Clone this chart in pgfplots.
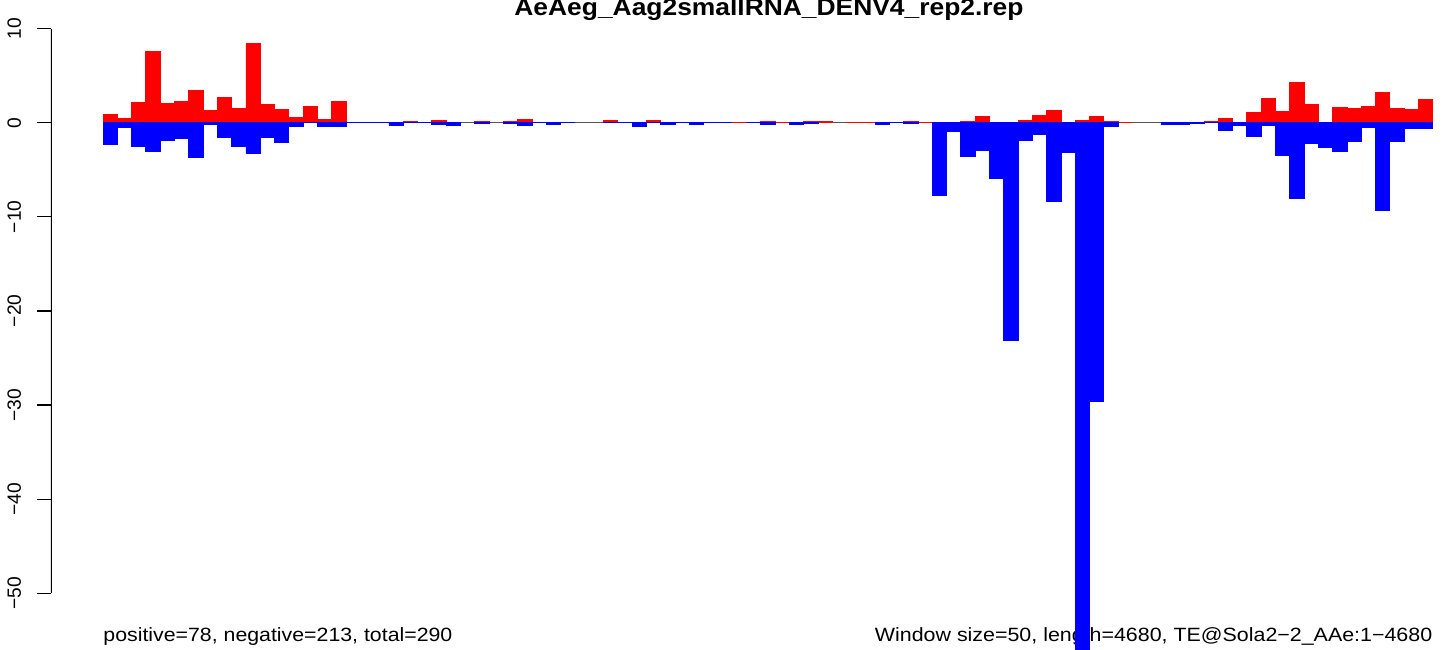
\documentclass[border=0pt]{standalone}
\usepackage{fontspec}
\setmainfont{Liberation Sans}
\usepackage{pgfplots}
\pgfplotsset{compat=1.18}
\usepackage{pgfplotstable}
\definecolor{rred}{RGB}{255,0,0}
\definecolor{rblue}{RGB}{0,0,255}
\definecolor{zgray}{RGB}{85,85,85}

\pgfplotstableread{
k pos
1 0.85
2 0.43
3 2.13
4 7.55
5 2.02
6 2.23
7 3.40
8 1.28
9 2.66
10 1.49
11 8.40
12 1.91
13 1.38
14 0.53
15 1.70
16 0.32
17 2.23
18 0
19 0
20 0
21 0
22 0.11
23 0
24 0.21
25 0
27 0.11
29 0.11
30 0.32
31 0
32 0
33 0
36 0.21
37 0
38 0
39 0.21
40 0
41 0
42 0
43 0
44 0
45 0
46 0
47 0.11
48 0
49 0
50 0.11
51 0.11
53 0
54 0
55 0
56 0
57 0.11
58 0
59 0
60 0
61 0.11
62 0.64
63 0
64 0
65 0.21
66 0.74
67 1.28
68 0
69 0.21
70 0.64
71 0.11
72 0
75 0
76 0
77 0
78 0.11
79 0.43
80 0
81 1.06
82 2.55
83 1.17
84 4.26
85 1.91
86 0
87 1.60
88 1.49
89 1.70
90 3.19
91 1.49
92 1.38
93 2.45
}\posdata

\pgfplotstableread{
k neg
1 -2.30
2 -0.53
3 -2.55
4 -3.05
5 -1.88
6 -1.67
7 -3.72
8 -0.21
9 -1.56
10 -2.52
11 -3.26
12 -1.56
13 -2.13
14 -0.39
15 0
16 -0.39
17 -0.40
18 0
19 0
20 0
21 -0.28
22 0
23 0
24 -0.18
25 -0.28
27 -0.10
29 -0.10
30 -0.28
31 0
32 -0.18
33 0
36 0
37 0
38 -0.43
39 0
40 -0.20
41 0
42 -0.18
43 0
44 0
46 0
47 -0.18
49 -0.18
50 -0.10
55 -0.18
56 0
57 -0.08
59 -7.73
60 -0.92
61 -3.58
62 -2.98
63 -5.92
64 -23.1
65 -1.91
66 -1.24
67 -8.37
68 -3.16
69 -57
70 -29.6
71 -0.39
75 -0.18
76 -0.18
77 -0.05
78 0
79 -0.85
80 -0.28
81 -1.49
82 -0.28
83 -3.51
84 -8.05
85 -2.23
86 -2.66
87 -3.05
88 -2.02
89 -0.50
90 -9.33
91 -2.02
92 -0.60
93 -0.60
}\negdata

\begin{document}
\begin{tikzpicture}
\useasboundingbox (-25.5pt,0pt) rectangle (699pt,324.5pt);
\node[anchor=base west, inner sep=0pt, font=\fontsize{9.6}{11}\selectfont, xscale=1.11] at (26pt,3.65pt) {positive=78, negative=213, total=290};
\node[anchor=base east, inner sep=0pt, font=\fontsize{9.6}{11}\selectfont, xscale=1.115] at (690.85pt,3.65pt) {Window size=50, length=4680, TE@Sola2−2\_AAe:1−4680};
\node[anchor=base, inner sep=0pt, font=\bfseries\fontsize{12}{14}\selectfont, xscale=1.1] at (359pt,316.5pt) {AeAeg\_Aag2smallRNA\_DENV4\_rep2.rep};
\begin{axis}[
  at={(0pt,0pt)}, anchor=south west,
  scale only axis, width=699pt, height=324.5pt,
  xmin=-3.137, xmax=94.64, ymin=-55.93, ymax=13.04,
  axis line style={draw=none},
  xtick=\empty,
  ytick={-50,-40,-30,-20,-10,0,10},
  yticklabels={−50,−40,−30,−20,−10,0,10},
  ytick pos=left,
  tick align=outside,
  major tick length=7pt,
  tick style={black, line width=0.6pt},
  yticklabel style={font=\fontsize{9.6}{11}\selectfont, xshift=-8pt, rotate=90, anchor=base, inner sep=0pt},
  clip=true,
]
\addplot[color=zgray, line width=0.5pt] coordinates {(0.5,0) (93.5,0)};
\addplot[ybar, bar width=1, bar shift=0pt, fill=rred, draw=rred, line width=0.4pt] table[x=k, y=pos] {\posdata};
\addplot[ybar, bar width=1, bar shift=0pt, fill=rblue, draw=rblue, line width=0.4pt] table[x=k, y=neg] {\negdata};
\draw[line width=0.6pt] (axis cs:-3.137,-50) -- (axis cs:-3.137,10);
\end{axis}
\end{tikzpicture}
\end{document}
